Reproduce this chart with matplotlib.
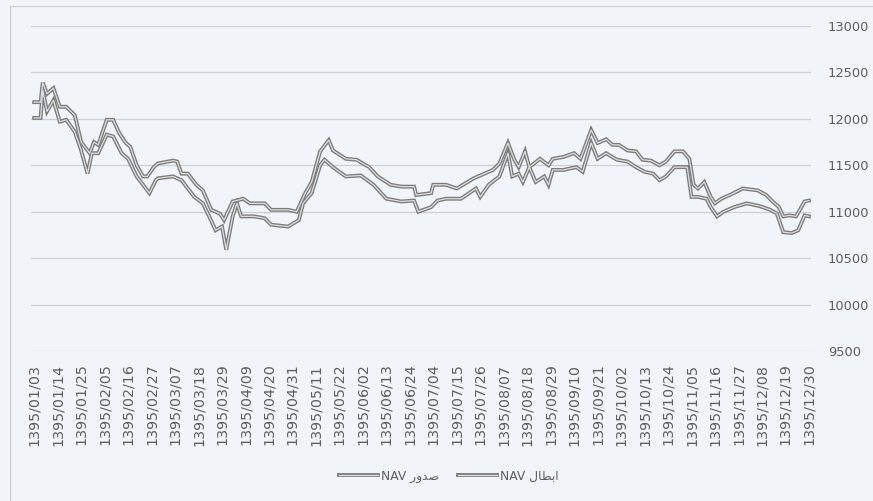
import matplotlib

matplotlib.use("Agg")
import matplotlib.pyplot as plt
from matplotlib.lines import Line2D
from matplotlib.legend_handler import HandlerTuple

# tick labels: one every 11 calendar days of 1395
TICK_LABELS = [
    "1395/01/03", "1395/01/14", "1395/01/25", "1395/02/05", "1395/02/16",
    "1395/02/27", "1395/03/07", "1395/03/18", "1395/03/29", "1395/04/09",
    "1395/04/20", "1395/04/31", "1395/05/11", "1395/05/22", "1395/06/02",
    "1395/06/13", "1395/06/24", "1395/07/04", "1395/07/15", "1395/07/26",
    "1395/08/07", "1395/08/18", "1395/08/29", "1395/09/10", "1395/09/21",
    "1395/10/02", "1395/10/13", "1395/10/24", "1395/11/05", "1395/11/16",
    "1395/11/27", "1395/12/08", "1395/12/19", "1395/12/30",
]
TICK_STEP = 11

# issue NAV (upper line), day index counted from 1395/01/03
SODUR_DAY = [0, 3, 4, 6, 9, 12, 15, 19, 22, 26, 28, 30, 34, 37, 40, 43, 45, 48,
             51, 53, 56, 58, 65, 67, 69, 72, 76, 79, 83, 87, 89, 93, 98, 101,
             108, 111, 119, 123, 127, 130, 134, 138, 140, 146, 151, 157, 161,
             167, 172, 178, 179, 186, 187, 193, 198, 206, 211, 215, 218, 222,
             225, 227, 230, 232, 237, 241, 243, 248, 253, 256, 261, 264, 268,
             271, 274, 278, 282, 285, 289, 293, 296, 300, 304, 307, 309, 311,
             314, 317, 319, 322, 326, 332, 339, 343, 346, 349, 351, 354, 357,
             361, 363]
SODUR_NAV = [12180, 12180, 12390, 12270, 12330, 12130, 12130, 12040, 11750,
             11630, 11750, 11720, 11990, 11990, 11840, 11740, 11700, 11500,
             11380, 11380, 11480, 11520, 11550, 11540, 11410, 11410, 11290,
             11230, 11020, 10980, 10910, 11110, 11140, 11090, 11090, 11020,
             11020, 11000, 11200, 11320, 11650, 11770, 11660, 11570, 11560,
             11480, 11380, 11290, 11270, 11270, 11180, 11200, 11290, 11290,
             11250, 11360, 11410, 11450, 11520, 11740, 11560, 11480, 11650,
             11480, 11570, 11500, 11570, 11590, 11630, 11570, 11880, 11740,
             11780, 11720, 11720, 11660, 11650, 11560, 11550, 11500, 11540,
             11650, 11650, 11570, 11290, 11250, 11320, 11160, 11090, 11140,
             11180, 11250, 11230, 11180, 11110, 11050, 10950, 10960, 10950,
             11110, 11120]

# redemption NAV (lower line)
EBTAL_DAY = [0, 3, 4, 6, 9, 12, 15, 19, 22, 25, 27, 30, 34, 37, 41, 44, 48, 51,
             54, 57, 58, 65, 69, 72, 75, 79, 82, 85, 88, 90, 93, 95, 97, 103,
             108, 111, 119, 124, 126, 130, 134, 136, 140, 146, 153, 159, 165,
             172, 178, 180, 186, 189, 193, 200, 207, 209, 213, 218, 222, 224,
             227, 229, 232, 235, 239, 241, 243, 248, 254, 257, 261, 264, 268,
             273, 278, 282, 286, 290, 293, 296, 300, 306, 308, 311, 315, 317,
             320, 323, 328, 334, 340, 345, 348, 351, 355, 358, 361, 363]
EBTAL_NAV = [12010, 12010, 12310, 12080, 12200, 11970, 11990, 11860, 11660,
             11410, 11630, 11630, 11830, 11810, 11630, 11570, 11380, 11290,
             11200, 11340, 11360, 11380, 11340, 11250, 11160, 11090, 10950,
             10800, 10840, 10590, 10950, 11090, 10950, 10950, 10930, 10860,
             10840, 10910, 11090, 11200, 11500, 11560, 11480, 11380, 11390,
             11290, 11140, 11110, 11120, 11000, 11050, 11120, 11140, 11140,
             11250, 11160, 11290, 11380, 11630, 11380, 11410, 11320, 11480,
             11320, 11380, 11290, 11450, 11450, 11480, 11430, 11740, 11570,
             11630, 11560, 11540, 11480, 11430, 11410, 11340, 11380, 11480,
             11480, 11160, 11160, 11140, 11050, 10950, 11000, 11050, 11090,
             11060, 11020, 10980, 10780, 10770, 10800, 10960, 10950]

Y_TICKS = [9500, 10000, 10500, 11000, 11500, 12000, 12500, 13000]

# Persian legend text in presentation forms, visual (left-to-right) order,
# since matplotlib does no Arabic shaping / bidi
LABEL_SODUR = "NAV \uFEAD\uFEED\uFEAA\uFEBB"         # NAV صدور
LABEL_EBTAL = "NAV \uFEDD\uFE8E\uFEC4\uFE91\uFE8D"   # NAV ابطال

PAPER = "#f1f4f8"
LINE_DARK = "#7c7c7c"
LINE_LIGHT = "#dedede"
GRID = "#cdd0d6"
TEXT = "#5e5e5e"

plt.rcParams.update({"font.family": ["DejaVu Sans"]})

fig = plt.figure(figsize=(8.73, 5.01), dpi=100, facecolor=PAPER)
ax = fig.add_axes([31 / 873, 150 / 501, 780 / 873, 325 / 501])
ax.set_facecolor("none")


def double_line(days, vals):
    ax.plot(days, vals, color=LINE_DARK, lw=2.8, solid_joinstyle="miter",
            zorder=3)
    ax.plot(days, vals, color=LINE_LIGHT, lw=0.9, zorder=4)


double_line(SODUR_DAY, SODUR_NAV)
double_line(EBTAL_DAY, EBTAL_NAV)

ax.set_xlim(-1.5, 364)
ax.set_ylim(Y_TICKS[0], Y_TICKS[-1])
ax.set_yticks(Y_TICKS)
ax.yaxis.tick_right()
ax.grid(axis="y", color=GRID, lw=0.9)
ax.set_axisbelow(True)

ax.set_xticks([i * TICK_STEP for i in range(len(TICK_LABELS))])
ax.set_xticklabels(TICK_LABELS, rotation=90, fontsize=10.3, color=TEXT)
ax.tick_params(axis="x", length=0, pad=9)
ax.tick_params(axis="y", length=0, pad=12, labelsize=9.4, labelcolor=TEXT)
for s in ax.spines.values():
    s.set_visible(False)


def sample():
    return (Line2D([], [], color=LINE_DARK, lw=2.8),
            Line2D([], [], color=LINE_LIGHT, lw=0.9))


# legend with the same two-tone line sample
fig.legend([sample(), sample()], [LABEL_SODUR, LABEL_EBTAL], ncol=2,
           frameon=False, loc="center", bbox_to_anchor=(0.514, 0.05),
           fontsize=8.8, labelcolor=TEXT, handlelength=3.2, handletextpad=0.2,
           columnspacing=1.6,
           handler_map={tuple: HandlerTuple(ndivide=1, pad=0)})

# faint chart border (left and top edges visible in the scan)
fig.add_artist(Line2D([10 / 873, 10 / 873], [0, 1 - 6 / 501],
                      transform=fig.transFigure, color="#c9ccd1", lw=0.8))
fig.add_artist(Line2D([10 / 873, 1], [1 - 6 / 501, 1 - 6 / 501],
                      transform=fig.transFigure, color="#c9ccd1", lw=0.8))

fig.savefig("out.png", dpi=100, facecolor=PAPER)
